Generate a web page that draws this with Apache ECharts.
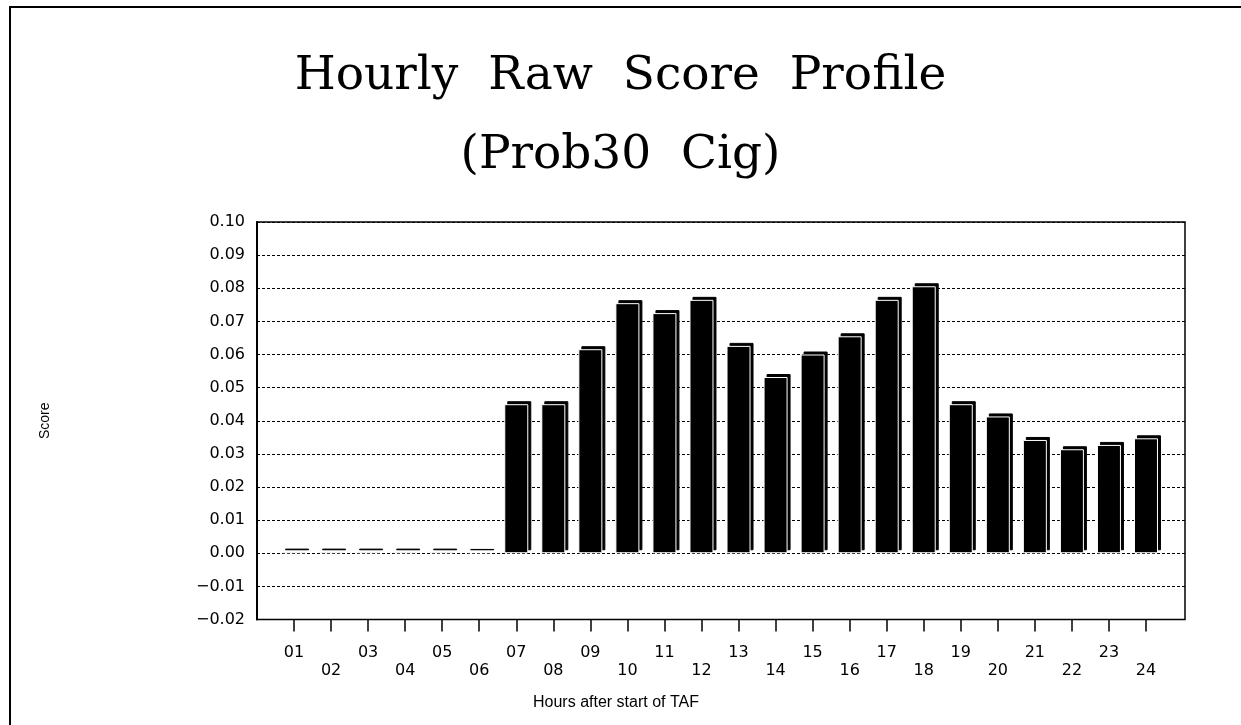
<!DOCTYPE html>
<html>
<head>
<meta charset="utf-8">
<title>Hourly Raw Score Profile</title>
<script src="https://cdn.jsdelivr.net/npm/echarts@6/dist/echarts.min.js"></script>
<style>
  html, body { margin: 0; padding: 0; background: #fff; }
  #chart { width: 1241px; height: 725px; }
</style>
</head>
<body>
<div id="chart"></div>
<script>
// hours after start of TAF
const hours = ['01', '02', '03', '04', '05', '06', '07', '08', '09', '10', '11', '12',
  '13', '14', '15', '16', '17', '18', '19', '20', '21', '22', '23', '24'];
// raw score per hour
const scores = [0.0005, 0.0005, 0.0005, 0.0005, 0.0005, 0.0004,
  0.045, 0.045, 0.0616, 0.0755, 0.0725, 0.0765,
  0.0626, 0.0532, 0.0600, 0.0655, 0.0765, 0.0806,
  0.0450, 0.0413, 0.0342, 0.0314, 0.0327, 0.0347];
const yMin = -0.02;
const yMax = 0.10;
const yStep = 0.01;

const chart = echarts.init(document.getElementById('chart'));

const fmtY = function (v) {
  if (v < -1e-9) return '\u2212' + Math.abs(v).toFixed(2);
  return Math.abs(v).toFixed(2);
};

const option = {
  animation: false,
  backgroundColor: '#fff',
  title: [
    {
      text: 'Hourly  Raw  Score  Profile',
      left: 'center',
      top: 48,
      textStyle: { fontFamily: 'DejaVu Serif', fontSize: 47, fontWeight: 'normal', color: '#000' }
    },
    {
      text: '(Prob30  Cig)',
      left: 'center',
      top: 127,
      textStyle: { fontFamily: 'DejaVu Serif', fontSize: 47, fontWeight: 'normal', color: '#000' }
    },
    {
      text: 'Hours after start of TAF',
      left: 528,
      top: 690,
      textStyle: { fontFamily: 'Liberation Sans', fontSize: 16, fontWeight: 'normal', color: '#000' }
    }
  ],
  graphic: [
    { type: 'line', shape: { x1: 9, y1: 7, x2: 1241, y2: 7 }, style: { stroke: '#000', lineWidth: 2 } },
    { type: 'line', shape: { x1: 10, y1: 7, x2: 10, y2: 725 }, style: { stroke: '#000', lineWidth: 2 } }
  ],
  grid: [
    // frame and value scale
    { left: 257, right: 56, top: 222, bottom: 105.5, show: true, borderColor: '#000', borderWidth: 1.5, backgroundColor: 'transparent' },
    // bars, inset so hour ticks line up as in the picture
    { left: 275.5, right: 76.5, top: 222, bottom: 105.5 }
  ],
  xAxis: [
    { gridIndex: 0, type: 'value', min: 0, max: 1, show: false },
    {
      gridIndex: 1,
      type: 'category',
      data: hours,
      axisLine: { show: false, onZero: false },
      axisTick: { show: true, alignWithLabel: true, length: 12, lineStyle: { color: '#000', width: 1.5 } },
      axisLabel: {
        interval: 0,
        margin: 24,
        lineHeight: 18,
        color: '#000',
        fontFamily: 'DejaVu Sans',
        fontSize: 16,
        formatter: function (v, i) {
          return i % 2 === 0 ? v + '\n ' : ' \n' + v;
        }
      }
    }
  ],
  yAxis: [
    {
      gridIndex: 0,
      type: 'value',
      min: yMin,
      max: yMax,
      interval: yStep,
      name: 'Score',
      nameLocation: 'middle',
      nameRotate: 90,
      nameGap: 205,
      nameTextStyle: { fontFamily: 'Liberation Sans Narrow, Arial Narrow, sans-serif', fontSize: 14, color: '#000' },
      axisLine: { show: true, lineStyle: { color: '#000', width: 2 } },
      axisTick: { show: false },
      axisLabel: { color: '#000', fontFamily: 'DejaVu Sans', fontSize: 16, margin: 12, formatter: fmtY },
      splitLine: { show: true, lineStyle: { color: '#000', width: 1.2, type: [3, 2] } }
    },
    { gridIndex: 1, type: 'value', min: yMin, max: yMax, interval: yStep, show: false, splitLine: { show: false } }
  ],
  series: [
    {
      type: 'bar',
      xAxisIndex: 1,
      yAxisIndex: 1,
      data: scores,
      barWidth: 24,
      itemStyle: {
        color: '#000',
        borderColor: '#fff',
        borderWidth: 1,
        shadowColor: '#000',
        shadowBlur: 0,
        shadowOffsetX: 3,
        shadowOffsetY: -3
      }
    }
  ]
};

chart.setOption(option);
</script>
</body>
</html>
